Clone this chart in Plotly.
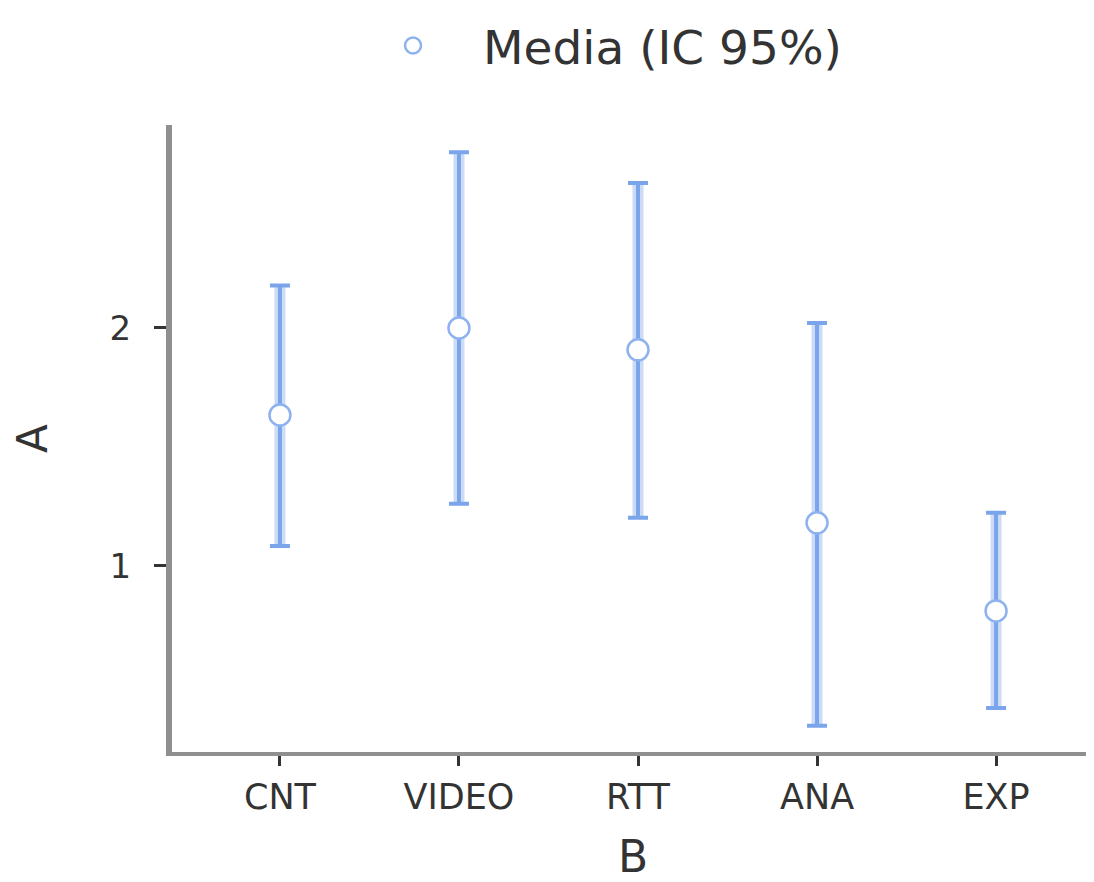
import plotly.graph_objects as go

categories = ["CNT", "VIDEO", "RTT", "ANA", "EXP"]
means = [1.634, 2.000, 1.908, 1.181, 0.811]
upper = [2.178, 2.739, 2.609, 2.021, 1.223]
lower = [1.084, 1.261, 1.202, 0.328, 0.403]
y_ticks = [1, 2]
legend_name = "Media (IC 95%)"

err_plus = [u - m for u, m in zip(upper, means)]
err_minus = [m - l for m, l in zip(means, lower)]

FONT = "DejaVu Sans"
TXT = "#333333"
CORE = "#7aa5eb"
HALO = "#cddcf6"

fig = go.Figure()
# soft halo of the interval lines
fig.add_trace(go.Scatter(
    x=categories, y=means, mode="markers",
    marker=dict(size=0.1, color="rgba(0,0,0,0)"),
    error_y=dict(type="data", symmetric=False, array=err_plus, arrayminus=err_minus,
                 color=HALO, thickness=11, width=0),
    showlegend=False, hoverinfo="skip",
))
# main interval lines and means
fig.add_trace(go.Scatter(
    x=categories, y=means, mode="markers", name=legend_name,
    marker=dict(symbol="circle", size=21, color="white",
                line=dict(color="#8db2ef", width=2.5)),
    error_y=dict(type="data", symmetric=False, array=err_plus, arrayminus=err_minus,
                 color=CORE, thickness=4, width=10),
    showlegend=True,
))

fig.update_layout(
    width=1086, height=874,
    margin=dict(l=164, r=0, t=117, b=130, autoexpand=False),
    paper_bgcolor="white", plot_bgcolor="white",
    font=dict(family=FONT, color=TXT),
    showlegend=True,
    legend=dict(orientation="h", x=0.1855, xanchor="left", y=1.186, yanchor="top",
                font=dict(family=FONT, size=47, color=TXT), itemwidth=130,
                borderwidth=0, bgcolor="rgba(0,0,0,0)"),
    xaxis=dict(
        type="category", categoryorder="array", categoryarray=categories,
        range=[-0.603, 4.547], automargin=False,
        showline=True, linecolor="#8f8f8f", linewidth=4,
        showgrid=False, zeroline=False,
        ticks="outside", ticklen=10, tickwidth=3, tickcolor=TXT,
        tickfont=dict(family=FONT, size=35, color=TXT), ticklabelstandoff=1,
        title=dict(text="B", font=dict(family=FONT, size=44, color=TXT), standoff=42),
    ),
    yaxis=dict(
        range=[0.218, 2.853], automargin=False,
        tickmode="array", tickvals=y_ticks, ticktext=[str(t) for t in y_ticks],
        showline=True, linecolor="#8f8f8f", linewidth=6,
        showgrid=False, zeroline=False,
        ticks="outside", ticklen=12, tickwidth=3, tickcolor=TXT,
        tickfont=dict(family=FONT, size=34, color=TXT), ticklabelstandoff=16,
        title=dict(text="A", font=dict(family=FONT, size=42, color=TXT), standoff=52),
    ),
)

fig.write_html("out.html")
